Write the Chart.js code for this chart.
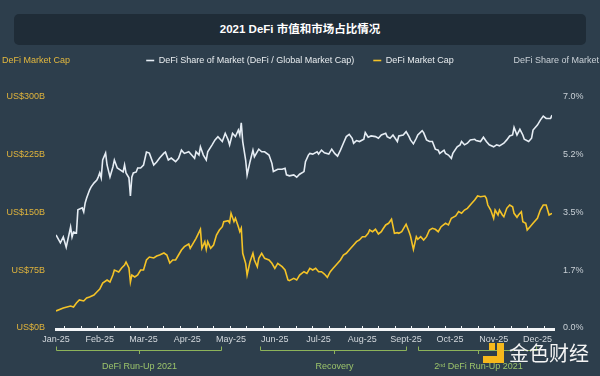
<!DOCTYPE html>
<html>
<head>
<meta charset="utf-8">
<script src="https://cdn.jsdelivr.net/npm/chart.js@4.4.1/dist/chart.umd.min.js"></script>
<style>
  html, body { margin: 0; padding: 0; width: 600px; height: 376px; overflow: hidden; background: #2d3e4c; font-family: "Liberation Sans", Arial, sans-serif; }
  #banner { position: absolute; left: 14px; top: 14px; width: 572px; height: 31px; background: #1f2c37; border-radius: 5px; color: #fff; font-weight: bold; font-size: 11.5px; line-height: 31px; text-align: center; font-family: "Liberation Sans", "Noto Sans CJK SC", sans-serif; }
  #chart { position: absolute; left: 0; top: 0; }
  .logo { position: absolute; background: #f5b81c; }
  #logoText { position: absolute; left: 509px; top: 338px; font-family: "Noto Sans CJK SC", sans-serif; font-size: 20px; color: #f4f4f4; letter-spacing: 0px; }
</style>
</head>
<body>
<div id="banner">2021 DeFi 市值和市场占比情况</div>
<canvas id="chart" width="600" height="376"></canvas>
<div class="logo" style="left:497px;top:343px;width:7px;height:20px"></div>
<div class="logo" style="left:483px;top:356px;width:21px;height:7px"></div>
<div class="logo" style="left:489px;top:343px;width:6px;height:7px"></div>
<div id="logoText">金色财经</div>
<script>
// month labels, one every 30 days
const months = ['Jan-25', 'Feb-25', 'Mar-25', 'Apr-25', 'May-25', 'Jun-25', 'Jul-25', 'Aug-25', 'Sept-25', 'Oct-25', 'Nov-25', 'Dec-25'];
const capTicks = ['US$0B', 'US$75B', 'US$150B', 'US$225B', 'US$300B'];
const shareTicks = ['0.0%', '1.7%', '3.5%', '5.2%', '7.0%'];

// DeFi share of market (%), day index -> value
const shareDays = [0,3,5,7,10,11,12,14,15,18,19,20,21,23,24,26,28,29,30,31,32,34,35,37,39,40,42,44,46,47,48,50,51,52,53,55,56,58,60,62,64,67,69,71,74,75,77,79,82,84,86,88,91,93,95,96,98,99,101,103,104,107,109,111,114,116,118,119,121,123,125,126,127,128,130,131,133,135,136,139,141,143,146,148,149,152,155,157,158,160,163,165,167,170,171,173,174,176,179,180,182,184,187,189,191,193,195,197,199,201,203,204,206,208,211,212,214,216,219,221,223,226,227,229,231,234,235,238,240,242,243,245,247,248,251,252,254,256,258,260,262,263,266,267,269,271,272,275,277,278,280,282,284,287,288,291,293,295,297,300,302,304,307,309,311,313,314,316,318,320,321,324,326,327,330,332,334,336,339,340];
const shareValues = [2.82,2.58,2.76,2.45,3.06,2.76,2.91,2.88,3.58,3.64,3.52,3.79,3.94,4.18,4.27,4.39,4.48,4.58,4.70,4.55,5.09,5.30,4.94,4.58,4.88,5.09,4.85,4.79,4.73,4.94,4.70,4.55,4.00,4.58,4.70,4.73,4.85,4.85,4.94,5.33,5.30,4.94,5.03,5.15,5.30,5.33,5.09,5.15,5.04,5.14,5.39,5.29,5.34,5.24,5.14,5.34,5.24,5.49,5.24,5.09,5.34,5.55,5.70,5.80,5.65,5.90,5.70,5.55,5.90,5.80,6.00,5.85,6.22,5.65,5.09,4.64,5.04,5.39,5.19,5.42,5.34,5.34,5.24,4.99,4.74,4.81,4.81,4.84,4.64,4.61,4.64,4.57,4.66,4.74,5.04,5.24,5.29,5.27,5.34,5.27,5.39,5.31,5.27,5.42,5.29,5.21,5.39,5.60,5.80,5.87,5.75,5.60,5.68,5.65,5.72,5.92,5.78,5.82,5.80,5.75,5.85,5.90,5.80,5.75,5.85,5.65,5.82,5.85,5.95,5.80,5.70,5.58,5.75,5.85,5.98,5.92,5.70,5.65,5.65,5.42,5.39,5.29,5.39,5.29,5.24,5.14,5.29,5.49,5.55,5.65,5.55,5.60,5.70,5.72,5.68,5.65,5.78,5.65,5.55,5.49,5.55,5.52,5.60,5.70,5.82,5.85,6.08,5.85,6.02,5.85,5.72,5.65,5.75,6.00,6.15,6.30,6.42,6.35,6.35,6.45];

// DeFi market cap (US$ billions), day index -> value
const capDays = [0,5,10,12,14,16,19,21,23,26,28,30,32,35,37,39,40,43,45,47,48,50,51,52,54,56,58,60,62,64,67,69,71,74,76,78,80,82,84,86,88,91,92,94,96,99,100,102,103,104,106,108,110,112,114,115,118,119,120,122,123,125,126,127,128,130,131,133,135,136,138,139,141,143,146,148,150,152,155,157,159,160,163,165,167,170,172,174,176,178,180,182,184,186,188,190,192,195,197,199,202,204,206,208,210,212,214,215,217,219,221,223,224,226,228,230,232,234,235,237,239,240,242,243,245,247,248,250,252,254,256,258,260,262,264,267,269,271,274,276,278,280,282,285,287,289,291,294,295,296,298,300,301,303,304,306,307,309,311,313,314,316,317,319,320,322,323,325,327,330,332,334,336,337,338,340];
const capValues = [22.1,26.0,28.6,27.3,32.5,36.4,35.1,39.0,40.3,42.9,46.8,50.6,58.4,62.3,59.7,68.8,75.3,72.7,77.9,81.8,85.7,77.9,59.7,68.8,66.2,68.8,75.3,75.3,88.3,92.2,90.9,93.5,94.8,97.4,94.8,84.4,88.3,88.3,94.8,101.3,105.6,109.1,103.5,110.0,116.5,128.2,103.5,112.1,102.2,112.1,103.5,107.8,120.8,127.3,131.6,138.1,139.4,136.8,149.0,138.1,142.5,131.6,125.1,129.5,97.0,84.0,68.8,86.1,97.0,88.3,79.6,90.5,97.0,90.5,88.3,84.0,77.5,84.0,79.6,75.3,62.3,61.4,64.5,62.3,68.8,73.1,71.0,77.5,75.3,77.5,73.1,73.1,70.1,65.8,73.1,77.5,81.8,88.3,94.8,97.0,103.5,107.8,112.1,114.3,118.6,118.6,123.0,127.3,125.1,128.2,122.1,125.1,128.2,133.8,136.0,141.2,123.0,123.8,123.0,125.1,131.6,134.7,125.1,119.5,102.2,118.6,115.2,118.6,114.3,118.6,127.3,129.5,128.2,125.1,131.6,136.0,133.8,142.5,145.5,151.1,149.0,153.2,155.4,161.9,166.2,171.4,170.5,171.4,168.4,159.7,153.2,142.5,153.2,146.8,153.2,146.8,144.5,155.4,159.7,157.5,148.9,143.8,146.8,151.0,138.1,136.0,127.3,131.6,136.0,142.5,153.2,159.7,159.7,153.2,146.8,148.9];

// phase brackets under the axis
const phaseNames = ['DeFi Run-Up 2021', 'Recovery', '2nd DeFi Run-Up 2021'];
const phaseStart = [0, 140, 248];
const phaseEnd = [113, 240, 329];

const FONT = '"Liberation Sans", Arial, sans-serif';

// push the plot area down, below the legend row
const legendGap = {
  id: 'legendGap',
  beforeLayout(chart) {
    const lg = chart.legend;
    if (lg && !lg._gapPatched) {
      const fit = lg.fit;
      lg.fit = function () { fit.call(this); this.height += 22; };
      lg._gapPatched = true;
    }
  }
};

const decor = {
  id: 'decor',
  afterDraw(chart) {
    const ctx = chart.ctx;
    const a = chart.chartArea;
    const xs = chart.scales.x;
    ctx.save();
    // axis band with small ticks
    ctx.fillStyle = '#f3f5f7';
    ctx.fillRect(a.left - 1, a.bottom, a.right - a.left + 4, 3);
    const step = (a.right - a.left) / 30;
    for (let k = 0; k < 30; k++) {
      const x = Math.round(a.left + (k + 0.5) * step);
      ctx.fillRect(x, a.bottom - 2, 1, 2);
    }
    // brackets
    const by = 350;
    ctx.strokeStyle = '#8db35a';
    ctx.lineWidth = 1;
    ctx.font = '9px ' + FONT;
    ctx.textBaseline = 'middle';
    phaseNames.forEach((name, i) => {
      const x1 = Math.round(xs.getPixelForValue(phaseStart[i])) + 0.5;
      const x2 = Math.round(xs.getPixelForValue(phaseEnd[i])) + 0.5;
      const xc = Math.round((x1 + x2) / 2) + 0.5;
      ctx.beginPath();
      ctx.moveTo(x1, by - 3.5);
      ctx.lineTo(x1, by + 0.5);
      ctx.lineTo(x2, by + 0.5);
      ctx.lineTo(x2, by - 3.5);
      ctx.moveTo(xc, by + 0.5);
      ctx.lineTo(xc, by + 4);
      ctx.stroke();
      ctx.fillStyle = '#9cc46b';
      if (name.startsWith('2nd')) {
        const rest = name.slice(3);
        ctx.font = '9px ' + FONT;
        const w1 = ctx.measureText('2').width;
        const w3 = ctx.measureText(rest).width;
        ctx.font = '5.5px ' + FONT;
        const w2 = ctx.measureText('nd').width;
        let x = xc - (w1 + w2 + w3) / 2;
        ctx.textAlign = 'left';
        ctx.font = '9px ' + FONT;
        ctx.fillText('2', x, 367);
        ctx.font = '5.5px ' + FONT;
        ctx.fillText('nd', x + w1, 365);
        ctx.font = '9px ' + FONT;
        ctx.fillText(rest, x + w1 + w2, 367);
      } else {
        ctx.textAlign = 'center';
        ctx.fillText(name, xc, 367);
      }
    });
    // axis titles on the legend row
    const hb = chart.legend.legendHitBoxes[0];
    const ly = hb.top + hb.height / 2;
    ctx.font = '9px ' + FONT;
    ctx.textAlign = 'left';
    ctx.fillStyle = '#e3b83e';
    ctx.fillText('DeFi Market Cap', 2, ly);
    ctx.textAlign = 'right';
    ctx.fillStyle = '#c9d0d6';
    ctx.fillText('DeFi Share of Market', 599, ly);
    ctx.restore();
  }
};

Chart.defaults.font.family = FONT;

new Chart(document.getElementById('chart'), {
  type: 'line',
  data: {
    datasets: [
      {
        label: 'DeFi Share of Market (DeFi / Global Market Cap)',
        data: shareDays.map((d, i) => ({ x: d, y: shareValues[i] })),
        yAxisID: 'y2',
        borderColor: '#e6edf4',
        borderWidth: 1.6,
        pointRadius: 0,
        tension: 0
      },
      {
        label: 'DeFi Market Cap',
        data: capDays.map((d, i) => ({ x: d, y: capValues[i] })),
        yAxisID: 'y',
        borderColor: '#f4c327',
        borderWidth: 1.6,
        pointRadius: 0,
        tension: 0
      }
    ]
  },
  options: {
    responsive: false,
    animation: false,
    devicePixelRatio: 1,
    layout: { padding: { top: 37, left: 0, right: 0, bottom: 0 } },
    plugins: {
      tooltip: { enabled: false },
      legend: {
        position: 'top',
        labels: {
          usePointStyle: true,
          pointStyle: 'line',
          pointStyleWidth: 8,
          color: '#e8ecef',
          font: { size: 9 },
          padding: 19
        }
      }
    },
    scales: {
      x: {
        type: 'linear',
        min: 0,
        max: 340,
        afterBuildTicks: s => { s.ticks = months.map((m, i) => ({ value: i * 30 })); },
        afterFit: s => { s.height = 48; },
        ticks: {
          callback: (v, i) => months[i],
          color: '#d3d8dd',
          font: { size: 9 },
          padding: 6,
          maxRotation: 0,
          autoSkip: false
        },
        grid: { display: false, drawTicks: false },
        border: { display: false }
      },
      y: {
        position: 'left',
        min: 0,
        max: 300,
        afterBuildTicks: s => { s.ticks = capTicks.map((t, i) => ({ value: i * 75 })); },
        afterFit: s => { s.width = 56; },
        ticks: {
          callback: (v, i) => capTicks[i],
          color: '#e0b43c',
          font: { size: 9 },
          padding: 11
        },
        grid: { display: false, drawTicks: false },
        border: { display: false }
      },
      y2: {
        position: 'right',
        min: 0,
        max: 7,
        afterBuildTicks: s => { s.ticks = shareTicks.map((t, i) => ({ value: i * 1.75 })); },
        afterFit: s => { s.width = 48; },
        ticks: {
          callback: (v, i) => shareTicks[i],
          color: '#c9d0d6',
          font: { size: 9 },
          padding: 11
        },
        grid: { display: false, drawTicks: false },
        border: { display: false }
      }
    }
  },
  plugins: [legendGap, decor]
});
</script>
</body>
</html>
